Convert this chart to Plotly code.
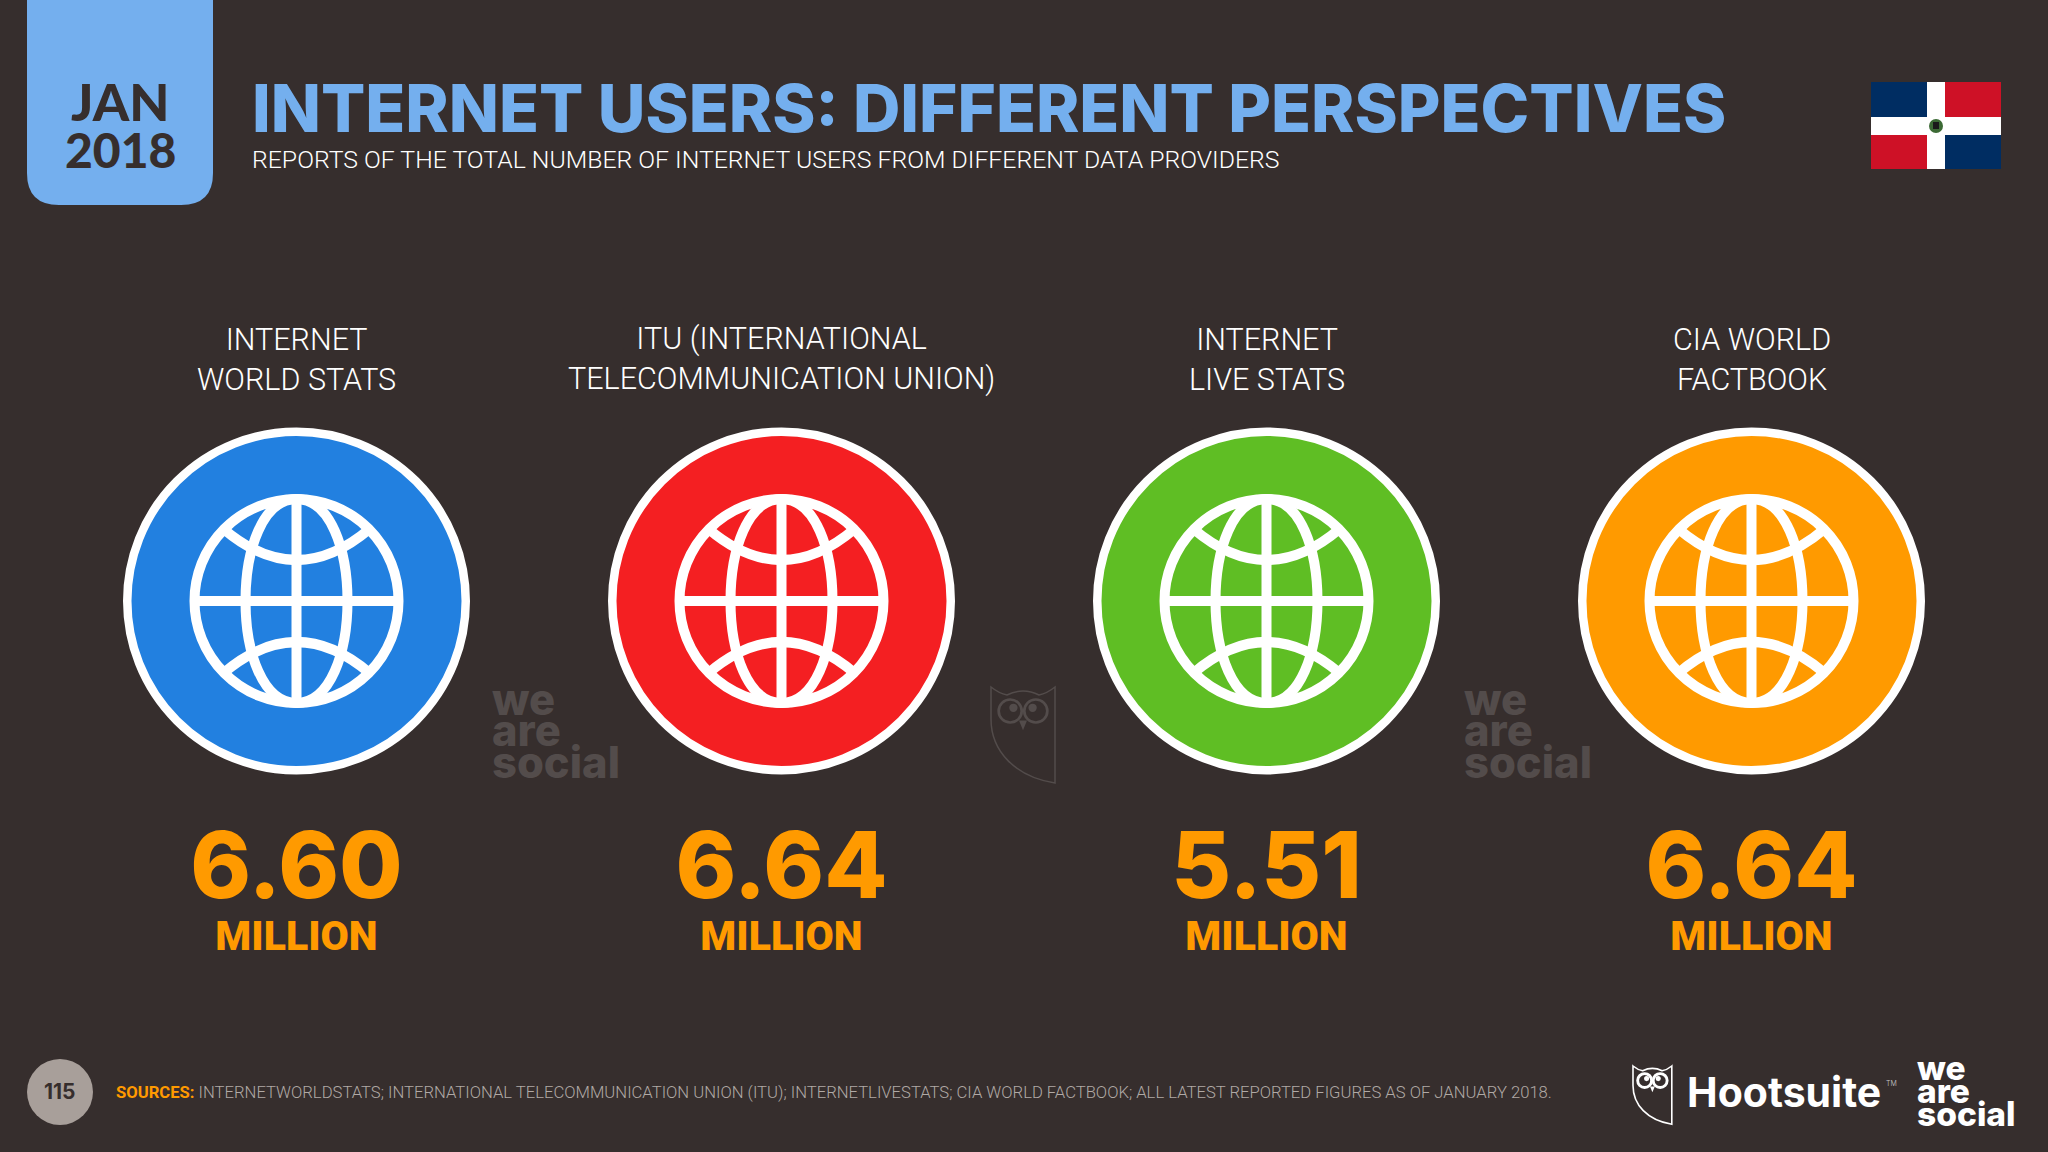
import plotly.graph_objects as go

# slide data
providers = ["INTERNET<br>WORLD STATS", "ITU (INTERNATIONAL<br>TELECOMMUNICATION UNION)",
             "INTERNET<br>LIVE STATS", "CIA WORLD<br>FACTBOOK"]
users_million = [6.60, 6.64, 5.51, 6.64]
unit_label = "MILLION"
circle_colors = ["#2280e0", "#f41f22", "#5fbe24", "#ff9a00"]

title = "INTERNET USERS: DIFFERENT PERSPECTIVES"
subtitle = "REPORTS OF THE TOTAL NUMBER OF INTERNET USERS FROM DIFFERENT DATA PROVIDERS"
sources = ("INTERNETWORLDSTATS; INTERNATIONAL TELECOMMUNICATION UNION (ITU); INTERNETLIVESTATS; "
           "CIA WORLD FACTBOOK; ALL LATEST REPORTED FIGURES AS OF JANUARY 2018.")

BG = "#362e2d"
BLUE = "#74afee"
ORANGE = "#ff9a00"
GHOST = "#534c4b"
THIN = "Roboto"
HEAVY = "Inter"

xs = [296.5 + 485 * i for i in range(len(providers))]
cy = 601
shapes = []
notes = []


def text(x, y, s, size, color, font=THIN, weight=300, anchor="center"):
    notes.append(dict(x=x, y=y, text=s, showarrow=False, xanchor=anchor, yanchor="middle",
                      font=dict(family=font, size=size, color=color, weight=weight)))


def rect(x0, y0, x1, y1, color):
    shapes.append(dict(type="rect", x0=x0, y0=y0, x1=x1, y1=y1, fillcolor=color, line_width=0))


def circle(x, y, r, fill=None, line=None, w=0):
    shapes.append(dict(type="circle", x0=x - r, y0=y - r, x1=x + r, y1=y + r,
                       fillcolor=fill or "rgba(0,0,0,0)",
                       line=dict(color=line or "rgba(0,0,0,0)", width=w)))


def path(d, color=None, line=None, w=0):
    shapes.append(dict(type="path", path=d, fillcolor=color or "rgba(0,0,0,0)",
                       line=dict(color=line or "rgba(0,0,0,0)", width=w)))


def globe(x, y):
    r = 102
    w = 10
    circle(x, y, r, line="white", w=w)
    path(f"M {x} {y-r} L {x} {y+r}", line="white", w=w)
    path(f"M {x-r} {y} L {x+r} {y}", line="white", w=w)
    # meridian ellipse, two arcs
    path(f"M {x} {y-r} C {x-68} {y-r} {x-68} {y+r} {x} {y+r} C {x+68} {y+r} {x+68} {y-r} {x} {y-r}",
         line="white", w=w)
    path(f"M {x-73} {y-72} Q {x} {y-10} {x+73} {y-72}", line="white", w=w)
    path(f"M {x-73} {y+72} Q {x} {y+10} {x+73} {y+72}", line="white", w=w)


def owl(x, y, s, color, stroke):
    # x, y top-left of the logo; s = scale, logo is 40 wide and 60 tall at s=1
    p = lambda a, b: f"{x + a * s:.1f} {y + b * s:.1f}"
    path(f"M {p(0,0)} Q {p(5,4)} {p(10,5)} Q {p(20,0)} {p(30,5)} Q {p(35,4)} {p(40,0)} L {p(40,60)} "
         f"C {p(15,56)} {p(0,40)} {p(0,20)} Z", line=color, w=stroke)
    circle(x + 12 * s, y + 15 * s, 7.2 * s, line=color, w=stroke * 1.8)
    circle(x + 28 * s, y + 15 * s, 7.2 * s, line=color, w=stroke * 1.8)
    circle(x + 14 * s, y + 13 * s, 2.6 * s, fill=color)
    circle(x + 26 * s, y + 13 * s, 2.6 * s, fill=color)
    path(f"M {p(17.5,21)} L {p(22.5,21)} L {p(20,27)} Z", color=color)


def wordmark(x, y, size, color, step):
    # three stacked left aligned words
    for i, word in enumerate(["we", "are", "social"]):
        text(x, y + step * size * i, word, size, color, font="Inter", weight=800, anchor="left")


# date badge
path("M 27 0 L 213 0 L 213 173 Q 213 205 181 205 L 59 205 Q 27 205 27 173 Z", color=BLUE)
text(120, 101, "JAN", 52, BG, font="Lato", weight=900)
text(120, 149, "2018", 48, BG, font="Lato", weight=900)

text(250, 108, title, 65.6, BLUE, font=HEAVY, weight=800, anchor="left")
text(250, 159, subtitle, 24.8, "white", anchor="left")

# flag
rect(1871, 82, 2001, 169, "white")
rect(1871, 82, 1927, 117, "#002d62")
rect(1945, 82, 2001, 117, "#ce1126")
rect(1871, 135, 1927, 169, "#ce1126")
rect(1945, 135, 2001, 169, "#002d62")
circle(1936, 126, 7, fill="#3c6a35")
rect(1933, 122, 1939, 129, "#1a1a1a")

for x in xs:
    globe(x, cy)

for x, label in zip(xs, providers):
    notes.append(dict(x=x, y=359, text=label, showarrow=False, yanchor="middle", xanchor="center", align="center",
                      font=dict(family=THIN, size=30.5, color="white", weight=300)))

# ghosted logos between the circles
wordmark(490, 699, 43.5, GHOST, 0.72)
wordmark(1462, 699, 43.5, GHOST, 0.72)
owl(991, 687, 1.6, GHOST, 1.5)

# footer
circle(60, 1092, 33, fill="#a89f9a")
text(60, 1091, "115", 21, BG, font=HEAVY, weight=700)
text(114, 1092, f'<span style="color:{ORANGE};font-weight:700">SOURCES:</span> {sources}', 16.65, "#b0a9a5", anchor="left")
owl(1633, 1066, 0.97, "white", 1.6)
text(1685, 1092, "Hootsuite", 41, "white", font=HEAVY, weight=700, anchor="left")
text(1884, 1083, "TM", 7, "#cccccc", font="Inter", anchor="left")
wordmark(1915, 1068, 33.5, "white", 0.68)

fig = go.Figure()
fig.add_trace(go.Scatter(x=xs, y=[cy] * len(xs), mode="markers", hoverinfo="skip",
                         marker=dict(size=338.5, color=circle_colors, line=dict(color="white", width=8.5))))
fig.add_trace(go.Scatter(x=xs, y=[875] * len(xs), mode="text", hoverinfo="skip",
                         text=[f"{v:.2f}" for v in users_million], textposition="middle center",
                         textfont=dict(family=HEAVY, size=92, color=ORANGE, weight=800)))
fig.add_trace(go.Scatter(x=xs, y=[940] * len(xs), mode="text", hoverinfo="skip",
                         text=[unit_label] * len(xs), textposition="middle center",
                         textfont=dict(family="Roboto", size=41, color=ORANGE, weight=900)))

fig.update_layout(width=2048, height=1152, margin=dict(l=0, r=0, t=0, b=0), showlegend=False,
                  paper_bgcolor=BG, plot_bgcolor=BG, shapes=shapes, annotations=notes,
                  xaxis=dict(range=[0, 2048], visible=False, fixedrange=True),
                  yaxis=dict(range=[1152, 0], visible=False, fixedrange=True))
# globes have to sit over the markers
for s in fig.layout.shapes:
    s.layer = "above"
fig.write_html("out.html", config=dict(displayModeBar=False),
               post_script="document.body.style.margin='0';document.body.style.overflow='hidden';")
